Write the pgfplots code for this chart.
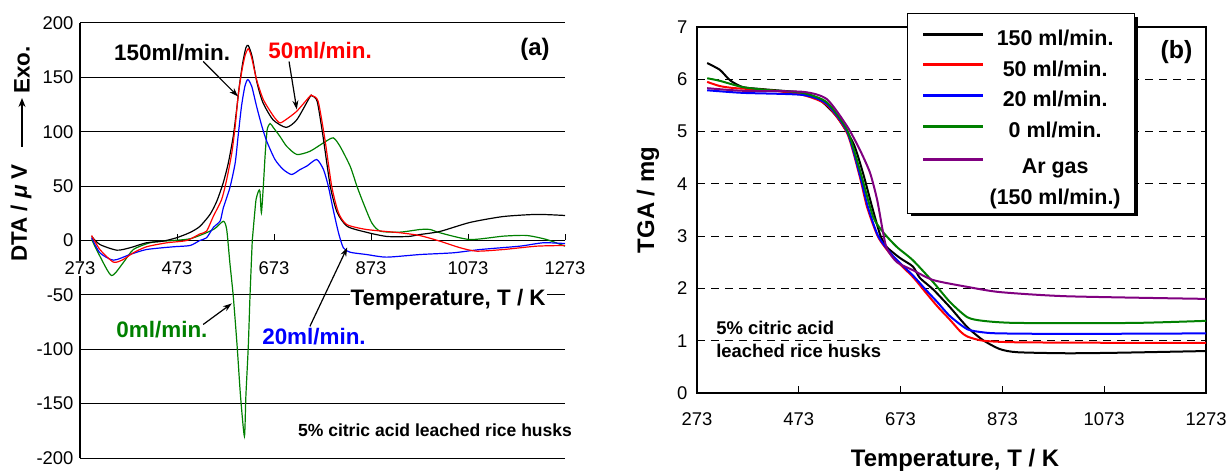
\documentclass[border=0pt]{standalone}
\usepackage{pgfplots}
\pgfplotsset{compat=1.18}
\usepackage{fontspec}
\setmainfont{Liberation Sans}
\usetikzlibrary{shadows,arrows.meta}

\definecolor{cBlack}{RGB}{0,0,0}
\definecolor{cRed}{RGB}{255,0,0}
\definecolor{cBlue}{RGB}{0,0,255}
\definecolor{cGreen}{RGB}{0,128,0}
\definecolor{cPurple}{RGB}{128,0,128}

\newcommand{\tickfont}{\fontsize{18.5}{22}\selectfont}
\newcommand{\labfont}{\bfseries\fontsize{22.5}{26}\selectfont}
\tikzset{callout/.style={-{Stealth[length=9bp,width=6bp]}, line width=1.2bp, black}}

\begin{document}
\begin{tikzpicture}
\useasboundingbox (0,0) rectangle (1228bp,473bp);

% ---------------- (a) DTA ----------------
\begin{axis}[
  at={(80bp,15bp)}, anchor=south west,
  scale only axis, width=485bp, height=435bp,
  xmin=273, xmax=1273, ymin=-200, ymax=200,
  clip=false,
  axis x line=middle, axis y line=left,
  axis line style={-, line width=1.2bp, black},
  every inner x axis line/.append style={-},
  every outer y axis line/.append style={-},
  hide obscured x ticks=false, hide obscured y ticks=false,
  xtick={273,473,...,1273}, ytick={-200,-150,...,200},
  xtick align=inside, major tick length=6bp,
  xtick style={line width=1bp, black},
  ytick style={draw=none},
  ymajorgrids, grid style={solid, black, line width=1bp},
  /pgf/number format/assume math mode=true,
  /pgf/number format/1000 sep={},
  ticklabel style={font=\tickfont},
  xticklabel style={fill=white, inner sep=1bp, yshift=-20bp},
]
\addplot[cGreen, line width=1.2bp, smooth, tension=0.4] coordinates {
(297,0.9)(314,-14.4)(338,-32.2)(362,-20.5)(383,-8.3)(417,-2.1)(445,-0.6)(500,1.6)
(548,10.1)(568.5,17.7)(575.5,10)(582,-20.5)(589,-51.2)(597,-97.2)(604,-143.2)(612,-180)
(615,-143.2)(620,-97.2)(623.5,-51.2)(628,-2.1)(629,4)(632,19.3)(636,37.7)(641,45.3)
(644,45.3)(647,25.5)(651,49.9)(655,80.6)(659,102)(665,107.6)(672,103.6)(685,95.9)
(699,86.7)(720,79.1)(747,82)(775,89.8)(795,94.4)(809,86.7)(830,68.3)(844,49.9)
(857,34.7)(874.5,16.3)(892,8.6)(933,7.7)(974,10.1)(995,10.1)(1015,7.1)(1077,0.9)
(1146,4)(1194,4.6)(1235,0.9)(1273,-5.2)};
\addplot[cBlue, line width=1.2bp, smooth, tension=0.4] coordinates {
(297,2.5)(314,-11.3)(342,-18.1)(376,-12.9)(410,-8.3)(465,-5.8)(500,-4.6)(520,0)
(534,2.5)(548,12)(562,18)(568.5,30)(582,48.5)(593,71.4)(599,95.9)(606,123.5)(613,141.9)
(619,148)(627,141.9)(637,123.5)(648,105.1)(658,91.3)(675,74.5)(692,65.3)(709.5,60.7)
(727,65.3)(741,68.5)(761,74.5)(775,65.3)(785,49.9)(795,28.5)(806,7.1)(816,-6.7)
(830,-10.8)(864,-12.9)(905,-15.3)(974,-12.9)(1043,-11.3)(1098,-8.3)(1180,-5.2)
(1228,-2.1)(1273,-2.8)};
\addplot[cBlack, line width=1.2bp, smooth, tension=0.4] coordinates {
(297,3.7)(314,-3.7)(349,-8.9)(376,-6.7)(410,-2.1)(444,-0.6)(472,2.5)(500,7.4)
(520,12.9)(541,23.9)(555,36.1)(568.5,53.3)(579,71.7)(589,95.9)(596,120.5)(601.5,141.9)
(608.5,163.4)(615,177.2)(620,179.3)(628,169)(638,145)(650,127)(671,111)(698,104)
(720,111)(747,132)(751,133)(762,128)(774,96)(789,50)(803,26)(824,13)(865,7.4)
(906,3.7)(950,3.7)(974,5.5)(1015,8.3)(1077,16.6)(1145,22)(1215,24)(1273,23)};
\addplot[cRed, line width=1.2bp, smooth, tension=0.4] coordinates {
(297,4.6)(314,-8.3)(342,-19.9)(362,-17.5)(383,-11.3)(410,-5.8)(452,-2.1)(493,0)
(520,6)(534,8.6)(548,22.3)(565,37.7)(575.5,56.1)(586,80.6)(593,105.1)(599,132.7)
(606,154.2)(613,169.5)(620,176.3)(627,168)(637,148)(651,129.6)(672,114.3)(685,108.2)
(698,111.3)(720,118.9)(747,132.7)(751,133.3)(764,128)(778,92.9)(792,49.9)(806,25.5)
(823,14.7)(864,10.1)(933,7.1)(974,4.5)(1015,-0.6)(1057,-6.7)(1091,-9.8)(1146,-8.3)
(1215,-5.2)(1273,-4.6)};

\node[font=\labfont] at (axis cs:463,173) {150ml/min.};
\draw[callout] (axis cs:527,164.6) -- (axis cs:599,132.4);
\node[font=\labfont, text=cRed] at (axis cs:768,174.7) {50ml/min.};
\draw[callout] (axis cs:704,164.6) -- (axis cs:720,120.5);
\node[font=\bfseries\fontsize{24}{28}\selectfont] at (axis cs:1211,175.6) {(a)};
\node[font=\labfont, text=cGreen] at (axis cs:442,-81.8) {0ml/min.};
\draw[callout] (axis cs:527,-77.2) -- (axis cs:586,-57.9);
\node[font=\labfont, text=cBlue] at (axis cs:755.5,-88.3) {20ml/min.};
\draw[callout] (axis cs:747,-79) -- (axis cs:824,-6.4);
\node[font=\bfseries\fontsize{17.6}{21}\selectfont] at (axis cs:1005,-174.7) {5\% citric acid leached rice husks};
\node[font=\labfont, fill=white, inner sep=1bp] at (axis cs:1032,-54.3) {Temperature, T / K};
\end{axis}

% y label of (a)
\node[rotate=90, font=\labfont] at (21bp,260bp) {DTA / \textit{μ} V};
\draw[-{Stealth[length=9bp,width=7bp]}, line width=1.5bp] (22bp,326bp) -- (22bp,375bp);
\node[rotate=90, font=\labfont] at (22bp,403bp) {Exo.};

% ---------------- (b) TGA ----------------
\begin{axis}[
  at={(697bp,80bp)}, anchor=south west,
  scale only axis, width=509bp, height=366bp,
  xmin=273, xmax=1273, ymin=0, ymax=7,
  xtick={273,473,...,1273}, ytick={0,...,7},
  tick pos=left, tick align=inside, major tick length=7bp,
  xtick style={line width=1bp, black}, ytick style={draw=none},
  axis line style={line width=1.3bp, black},
  ymajorgrids, grid style={black, line width=0.9bp, dash pattern=on 8bp off 6bp},
  /pgf/number format/assume math mode=true,
  /pgf/number format/1000 sep={},
  ticklabel style={font=\tickfont},
  xticklabel style={yshift=-16bp},
  yticklabel style={xshift=-6bp},
  legend style={
    at={(0.4126,1.0383)}, anchor=north west,
    font=\bfseries\fontsize{21.5}{25}\selectfont,
    draw=black, line width=1.3bp, fill=white,
    drop shadow={shadow xshift=3bp, shadow yshift=-3bp, fill=black, opacity=1},
    inner xsep=14bp, inner ysep=4bp,
    row sep=-2.3bp, column sep=5bp,
    nodes={inner sep=0pt, text height=27.7bp, text depth=5.3bp},
    cells={align=center},
  },
  legend cell align=center,
  % plain pgf stroke for the key lines
  legend image code/.code={%
    \begin{scope}[#1]
      \pgfsetlinewidth{3bp}%
      \pgfpathmoveto{\pgfpoint{0bp}{0bp}}%
      \pgfpathlineto{\pgfpoint{60bp}{0bp}}%
      \pgfusepath{stroke}%
    \end{scope}},
]
\addplot[cBlack, line width=2bp, smooth, tension=0.4] coordinates {
(293,6.31)(318,6.18)(338,5.98)(363,5.85)(403,5.81)(481,5.74)(515,5.60)(548,5.28)
(580,4.78)(599,4.21)(617,3.56)(633,3.02)(646,2.79)(672,2.58)(697,2.42)(711,2.2)
(737,1.98)(770,1.64)(804,1.26)(835,1.01)(868,0.84)(902,0.78)(1000,0.76)(1100,0.77)
(1261,0.80)(1273,0.80)};
\addlegendentry{150 ml/min.}
\addplot[cRed, line width=2bp, smooth, tension=0.4] coordinates {
(293,5.95)(318,5.87)(348,5.83)(416,5.79)(481,5.70)(528,5.51)(568,4.97)(593,4.13)
(607,3.56)(629,2.98)(658,2.6)(697,2.22)(720,1.95)(745,1.66)(770,1.40)(790,1.18)
(804,1.08)(835,1.0)(900,0.97)(1100,0.96)(1273,0.96)};
\addlegendentry{50 ml/min.}
\addplot[cBlue, line width=2bp, smooth, tension=0.4] coordinates {
(293,5.79)(363,5.74)(481,5.70)(528,5.53)(568,5.0)(593,4.17)(609,3.55)(629,3.0)
(658,2.62)(697,2.25)(720,2.0)(745,1.74)(770,1.47)(804,1.22)(835,1.16)(868,1.14)
(1000,1.13)(1273,1.14)};
\addlegendentry{20 ml/min.}
\addplot[cGreen, line width=2bp, smooth, tension=0.4] coordinates {
(293,6.02)(318,5.97)(363,5.85)(416,5.79)(481,5.74)(528,5.56)(568,5.03)(593,4.26)
(619,3.37)(640,3.06)(666,2.79)(697,2.54)(737,2.12)(770,1.74)(804,1.45)(835,1.38)
(902,1.34)(1130,1.34)(1273,1.38)};
\addlegendentry{0 ml/min.}
\addplot[cPurple, line width=2bp, smooth, tension=0.4] coordinates {
(293,5.83)(363,5.78)(481,5.76)(528,5.62)(568,5.1)(593,4.65)(613,4.21)(627,3.69)
(638,3.1)(646,2.76)(666,2.50)(697,2.35)(737,2.16)(804,2.03)(868,1.93)(1000,1.85)
(1273,1.80)};
\addlegendentry[text height=33bp]{Ar gas}
\addlegendimage{empty legend}
\addlegendentry{(150 ml/min.)}

\node[anchor=west, align=left, font=\bfseries\fontsize{18.5}{23}\selectfont] at (axis cs:304,1.02) {5\% citric acid\\leached rice husks};
\node[font=\bfseries\fontsize{25}{28}\selectfont] at (axis cs:1215,6.52) {(b)};
\end{axis}

\node[rotate=90, font=\bfseries\fontsize{24}{28}\selectfont] at (648bp,273bp) {TGA / mg};
\node[font=\bfseries\fontsize{24}{28}\selectfont] at (955bp,13bp) {Temperature, T / K};
\end{tikzpicture}
\end{document}
